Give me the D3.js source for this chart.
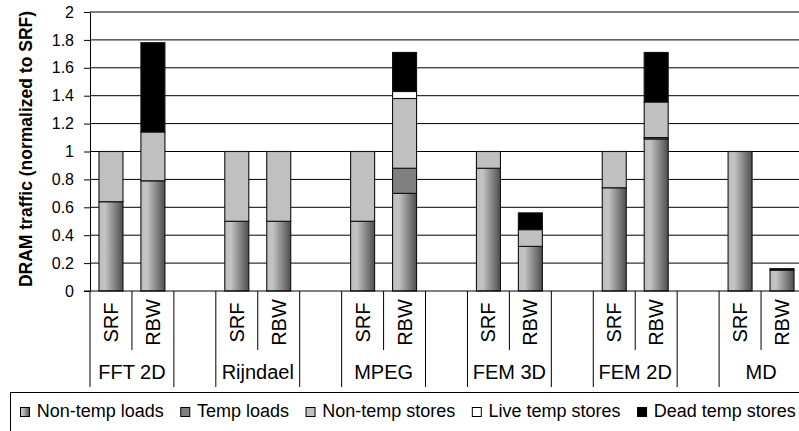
<!DOCTYPE html>
<html>
<head>
<meta charset="utf-8">
<script src="https://cdn.jsdelivr.net/npm/d3@7"></script>
<style>
  html, body { margin: 0; padding: 0; background: #fff; }
  svg { display: block; font-family: "Liberation Sans", Arial, sans-serif; }
</style>
</head>
<body>
<svg id="chart" width="799" height="431"></svg>
<script>
// Benchmarks and memory configurations
const groups = ["FFT 2D", "Rijndael", "MPEG", "FEM 3D", "FEM 2D", "MD"];
const configs = ["SRF", "RBW"];

// Stacked traffic components, one value per bar (SRF, RBW for each benchmark)
const nonTempLoads   = [0.64, 0.79, 0.50, 0.50, 0.50, 0.70, 0.88, 0.32, 0.74, 1.09, 1.00, 0.15];
const tempLoads      = [0.00, 0.00, 0.00, 0.00, 0.00, 0.18, 0.00, 0.00, 0.00, 0.01, 0.00, 0.00];
const nonTempStores  = [0.36, 0.35, 0.50, 0.50, 0.50, 0.50, 0.12, 0.12, 0.26, 0.255, 0.00, 0.00];
const liveTempStores = [0.00, 0.00, 0.00, 0.00, 0.00, 0.05, 0.00, 0.00, 0.00, 0.00, 0.00, 0.00];
const deadTempStores = [0.00, 0.64, 0.00, 0.00, 0.00, 0.28, 0.00, 0.12, 0.00, 0.355, 0.00, 0.01];

const seriesNames = ["Non-temp loads", "Temp loads", "Non-temp stores", "Live temp stores", "Dead temp stores"];
const yTicks = [0, 0.2, 0.4, 0.6, 0.8, 1, 1.2, 1.4, 1.6, 1.8, 2];

const svg = d3.select("#chart");
const W = 799;

// Gradient used for the non-temporal loads segments
const defs = svg.append("defs");
const grad = defs.append("linearGradient").attr("id", "ntl").attr("x1", "0").attr("x2", "1").attr("y1", "0").attr("y2", "0");
grad.append("stop").attr("offset", "0%").attr("stop-color", "#bdbdbd");
grad.append("stop").attr("offset", "25%").attr("stop-color", "#c4c4c4");
grad.append("stop").attr("offset", "100%").attr("stop-color", "#4e4e4e");

const fills = ["url(#ntl)", "#808080", "#c0c0c0", "#ffffff", "#000000"];

// Build rows for stacking
const rows = nonTempLoads.map((v, i) => ({
  group: groups[Math.floor(i / 2)],
  config: configs[i % 2],
  slot: Math.floor(i / 2) * 3 + (i % 2),
  [seriesNames[0]]: nonTempLoads[i],
  [seriesNames[1]]: tempLoads[i],
  [seriesNames[2]]: nonTempStores[i],
  [seriesNames[3]]: liveTempStores[i],
  [seriesNames[4]]: deadTempStores[i]
}));

const plotLeft = 90, slotW = 41.94, nSlots = groups.length * 3 - 1;
const x = d3.scaleBand().domain(d3.range(nSlots)).range([plotLeft, plotLeft + nSlots * slotW]).padding(0);
const y = d3.scaleLinear().domain([0, 2]).range([291, 12]);
const barW = 24;

// Horizontal gridlines
svg.append("g").selectAll("line").data(yTicks.slice(1)).join("line")
  .attr("x1", plotLeft).attr("x2", W)
  .attr("y1", d => y(d)).attr("y2", d => y(d))
  .attr("stroke", "#000").attr("stroke-width", 1);

// Stacked bars
const stacked = d3.stack().keys(seriesNames)(rows);
svg.append("g").selectAll("g").data(stacked).join("g")
  .attr("fill", (d, i) => fills[i])
  .selectAll("rect").data(d => d.filter(s => s[1] - s[0] > 0)).join("rect")
  .attr("x", d => x(d.data.slot) + x.bandwidth() / 2 - barW / 2)
  .attr("width", barW)
  .attr("y", d => y(d[1]))
  .attr("height", d => y(d[0]) - y(d[1]))
  .attr("stroke", "#111").attr("stroke-width", 1.1);

// Y axis
const yAxis = svg.append("g").attr("transform", `translate(${plotLeft},0)`)
  .call(d3.axisLeft(y).tickValues(yTicks).tickSize(6).tickSizeOuter(0).tickPadding(10).tickFormat(d3.format("~g")));
yAxis.select(".domain").attr("stroke", "#000");
yAxis.selectAll(".tick line").attr("stroke", "#000");
yAxis.selectAll("text").attr("font-size", 16).attr("font-family", "\"Liberation Sans\", Arial, sans-serif").attr("fill", "#000");

// X axis baseline
svg.append("line").attr("x1", plotLeft - 6).attr("x2", W).attr("y1", y(0)).attr("y2", y(0)).attr("stroke", "#000");

// Category separators: short between configs, long between groups
const sep = svg.append("g").attr("stroke", "#000").attr("stroke-width", 1);
for (let s = 0; s <= nSlots; s++) {
  const xx = plotLeft + s * slotW;
  const short = s % 3 === 1;
  sep.append("line").attr("x1", xx).attr("x2", xx).attr("y1", y(0)).attr("y2", short ? 350 : 387);
}

// Config labels (rotated)
svg.append("g").selectAll("text").data(rows).join("text")
  .attr("transform", d => `translate(${x(d.slot) + x.bandwidth() / 2 + 7},322.5) rotate(-90)`)
  .attr("text-anchor", "middle").attr("font-size", 20).text(d => d.config);

// Group labels
svg.append("g").selectAll("text").data(groups).join("text")
  .attr("x", (d, i) => plotLeft + (i * 3 + 1) * slotW)
  .attr("y", 379).attr("text-anchor", "middle").attr("font-size", 20).text(d => d);

// Y axis title
svg.append("text")
  .attr("transform", "translate(32,149) rotate(-90)")
  .attr("text-anchor", "middle").attr("font-size", 17.5).attr("font-weight", "bold")
  .text("DRAM traffic (normalized to SRF)");

// Legend
svg.append("rect").attr("x", 10.5).attr("y", 392.5).attr("width", 820).attr("height", 60)
  .attr("fill", "none").attr("stroke", "#000");
const leg = svg.append("g");
let lx = 20;
seriesNames.forEach((name, i) => {
  leg.append("rect").attr("x", lx + 0.5).attr("y", 407.5).attr("width", 9).attr("height", 9)
    .attr("fill", fills[i]).attr("stroke", "#000").attr("stroke-width", 1);
  const t = leg.append("text").attr("x", lx + 16.7).attr("y", 417).attr("font-size", 18).text(name);
  lx = lx + 16.7 + t.node().getComputedTextLength() + 16.5;
});
</script>
</body>
</html>
